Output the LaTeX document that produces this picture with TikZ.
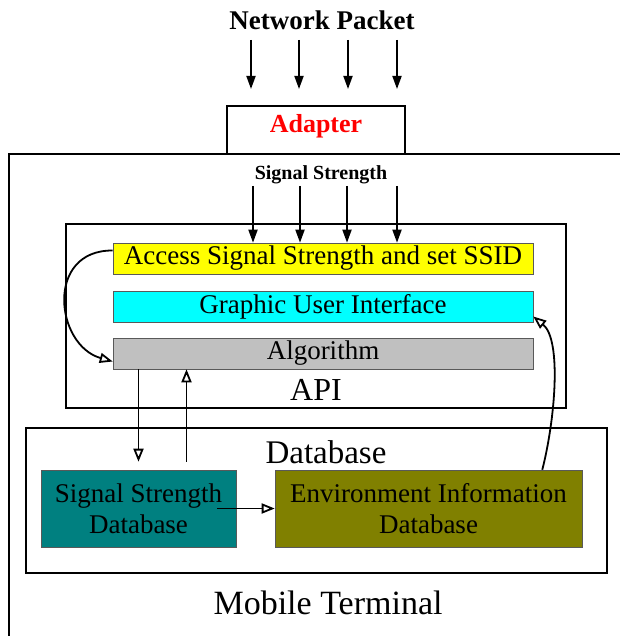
\documentclass[tikz,border=0pt]{standalone}
\usepackage{fontspec}
\setmainfont{Liberation Serif}
\usetikzlibrary{arrows.meta,calc}
\definecolor{cyellow}{HTML}{FFFF00}
\definecolor{ccyan}{HTML}{00FFFF}
\definecolor{cgray}{HTML}{C0C0C0}
\definecolor{cteal}{HTML}{008080}
\definecolor{colive}{HTML}{808000}
\definecolor{cred}{HTML}{FF0000}
\begin{document}
\begin{tikzpicture}[x=1pt,y=-1pt,
  frame/.style={draw, line width=1.8pt, inner sep=0pt},
  bar/.style={draw=gray!70!black, line width=0.6pt, minimum width=420pt, minimum height=31pt, inner sep=0pt, font=\fontsize{27}{29}\selectfont},
  dbbox/.style={draw=gray!70!black, line width=0.6pt, minimum height=77pt, inner sep=0pt, align=center, font=\fontsize{27}{31}\selectfont},
  solidarrow/.style={line width=1.8pt, -{Triangle[length=13pt, width=9pt]}},
  openarrow/.style={line width=1.8pt, -{Triangle[open, length=13pt, width=10pt, line width=1.8pt]}},
]
\useasboundingbox (0,0) rectangle (619,636);

% outer mobile terminal frame (cut by the picture edge)
\coordinate (mtbl) at (9,660);
\coordinate (mttl) at (9,154);
\coordinate (mttr) at (640,154);
\draw[line width=1.8pt] (mtbl) -- (mttl) -- (mttr);

% network packet and adapter
\node[font=\fontsize{27}{29}\selectfont\bfseries, inner sep=0pt] (np) at (322,20) {Network Packet};
\node[frame, fill=white, minimum width=178pt, minimum height=48pt] (adapter) at (316,130) {};
\node[font=\fontsize{26}{28}\selectfont\bfseries, text=cred, inner sep=0pt] (adtext) at (316,126) {Adapter};
\foreach \i/\xx in {1/251,2/299,3/348,4/397}{
  \coordinate (npa\i) at (\xx,40);
  \coordinate (npb\i) at (\xx,89);
  \draw[solidarrow] (npa\i) -- (npb\i);
}

% API
\node[frame, minimum width=500pt, minimum height=184pt] (api) at (316,316) {};
\node[bar, fill=cyellow] (access) at (323,258.5) {Access Signal Strength and set SSID};
\node[bar, fill=ccyan] (gui) at (323,306.5) {Graphic User Interface};
\node[bar, fill=cgray] (algo) at (323,353.5) {Algorithm};
\node[font=\fontsize{32}{34}\selectfont, inner sep=0pt] (apitext) at (316,390) {API};

% signal strength
\node[font=\fontsize{20}{22}\selectfont\bfseries, inner sep=0pt] (ss) at (321,175) {Signal Strength};
\foreach \i/\xx in {1/253,2/300,3/347,4/397}{
  \coordinate (ssa\i) at (\xx,186);
  \draw[solidarrow] (ssa\i) -- (ssa\i |- access.north);
}

% database
\node[frame, minimum width=581pt, minimum height=145pt] (db) at (316.5,500.5) {};
\node[font=\fontsize{33}{35}\selectfont, inner sep=0pt] (dbtext) at (326,452) {Database};
\node[dbbox, fill=cteal, minimum width=195pt] (ssd) at (138.5,508.5) {Signal Strength\\Database};
\node[dbbox, fill=colive, minimum width=307pt] (eid) at (428.5,508.5) {Environment Information\\Database};

\node[font=\fontsize{34}{36}\selectfont, inner sep=0pt] (mt) at (328,603) {Mobile Terminal};

% connectors
\draw[openarrow] ([yshift=8pt]access.west) .. controls (45,250) and (55,345) .. ([yshift=-8pt]algo.west);
\draw[openarrow] (algo.south -| ssd.north) -- ([yshift=8pt]ssd.north);
\coordinate (up) at ([xshift=48pt,yshift=8pt]ssd.north);
\draw[openarrow] (up) -- (up |- algo.south);
\draw[openarrow] ([xshift=-19pt]ssd.east) -- (eid.west);
\draw[openarrow] ([xshift=-40pt]eid.north east) .. controls (555,420) and (562,340) .. ([yshift=-10pt]gui.east);
\end{tikzpicture}
\end{document}
